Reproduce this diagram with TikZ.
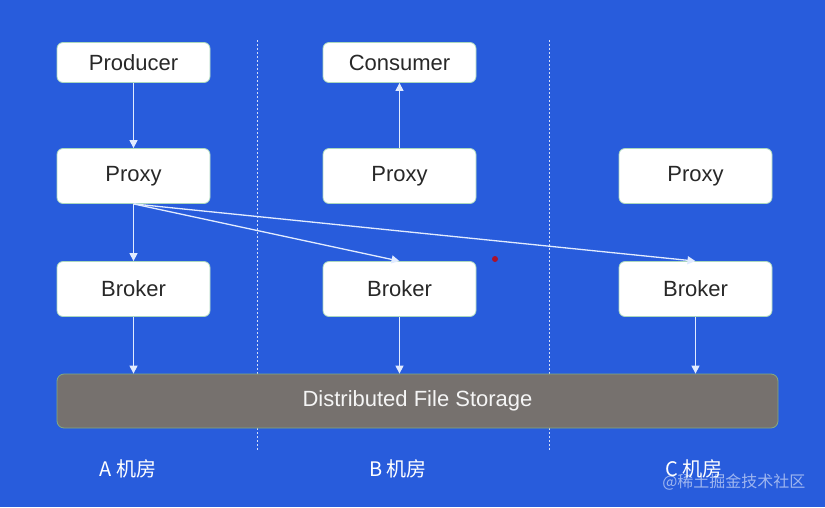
\documentclass[tikz,border=0pt]{standalone}
\usepackage{fontspec}
\setmainfont{Liberation Sans}
\newfontfamily\cjk{Noto Sans CJK SC}
\usetikzlibrary{arrows.meta}
\definecolor{bgblue}{RGB}{40,92,220}
\definecolor{lineclr}{RGB}{225,235,255}
\definecolor{boxedge}{RGB}{170,215,190}
\definecolor{storefill}{RGB}{118,113,110}
\definecolor{storeedge}{RGB}{130,170,130}
\definecolor{txt}{RGB}{40,40,40}
\tikzset{
  box/.style={draw=boxedge, line width=0.8pt, fill=white, rounded corners=6pt,
    minimum width=153pt, minimum height=55pt, inner sep=0pt,
    font=\fontsize{22}{24}\selectfont, text=txt},
  topbox/.style={box, minimum height=40pt},
  conn/.style={draw=lineclr, line width=1.3pt, -{Triangle[length=8pt,width=8pt]}},
  sep/.style={draw=white, line width=0.8pt, dash pattern=on 2pt off 2pt, opacity=0.8},
  room/.style={text=white, font=\cjk\fontsize{20}{22}\selectfont},
}
\begin{document}
\begin{tikzpicture}[x=1pt,y=-1pt]
\fill[bgblue] (0,0) rectangle (825,507);
\useasboundingbox (0,0) rectangle (825,507);

% separators
\draw[sep] (257,40) -- (257,450);
\draw[sep] (549,40) -- (549,450);

% storage
\node[draw=storeedge, line width=0.8pt, fill=storefill, rounded corners=7pt,
  minimum width=721pt, minimum height=54pt, inner sep=0pt,
  text=white!92!gray, font=\fontsize{22}{24}\selectfont] (st) at (417.5,401) {Distributed File Storage};

% boxes
\node[topbox] (prod) at (133.5,62.5) {Producer};
\node[topbox] (cons) at (399.5,62.5) {Consumer};
\node[box] (pa) at (133.5,176) {Proxy};
\node[box] (pb) at (399.5,176) {Proxy};
\node[box] (pc) at (695.5,176) {Proxy};
\node[box] (ba) at (133.5,289) {Broker};
\node[box] (bb) at (399.5,289) {Broker};
\node[box] (bc) at (695.5,289) {Broker};

% connectors
\draw[conn] (prod) -- (pa);
\draw[conn] (pb) -- (cons);
\draw[conn] (pa.south) -- (ba.north);
\draw[conn] (pa.south) -- (bb.north);
\draw[conn] (pa.south) -- (bc.north);
\draw[conn] (ba.south) -- (ba.south |- st.north);
\draw[conn] (bb.south) -- (bb.south |- st.north);
\draw[conn] (bc.south) -- (bc.south |- st.north);

% room labels
\node[room] (ra) at (128,469) {A 机房};
\node[room] (rb) at (398,469) {B 机房};
\node[room] (rc) at (694,469) {C 机房};

% watermark
\node[text=white, opacity=0.55, font=\cjk\fontsize{16}{18}\selectfont, anchor=east] (wm) at (809,482) {@稀土掘金技术社区};

% cursor dot
\fill[red!80!black, opacity=0.8] (495,259) circle (3pt);
\end{tikzpicture}
\end{document}
